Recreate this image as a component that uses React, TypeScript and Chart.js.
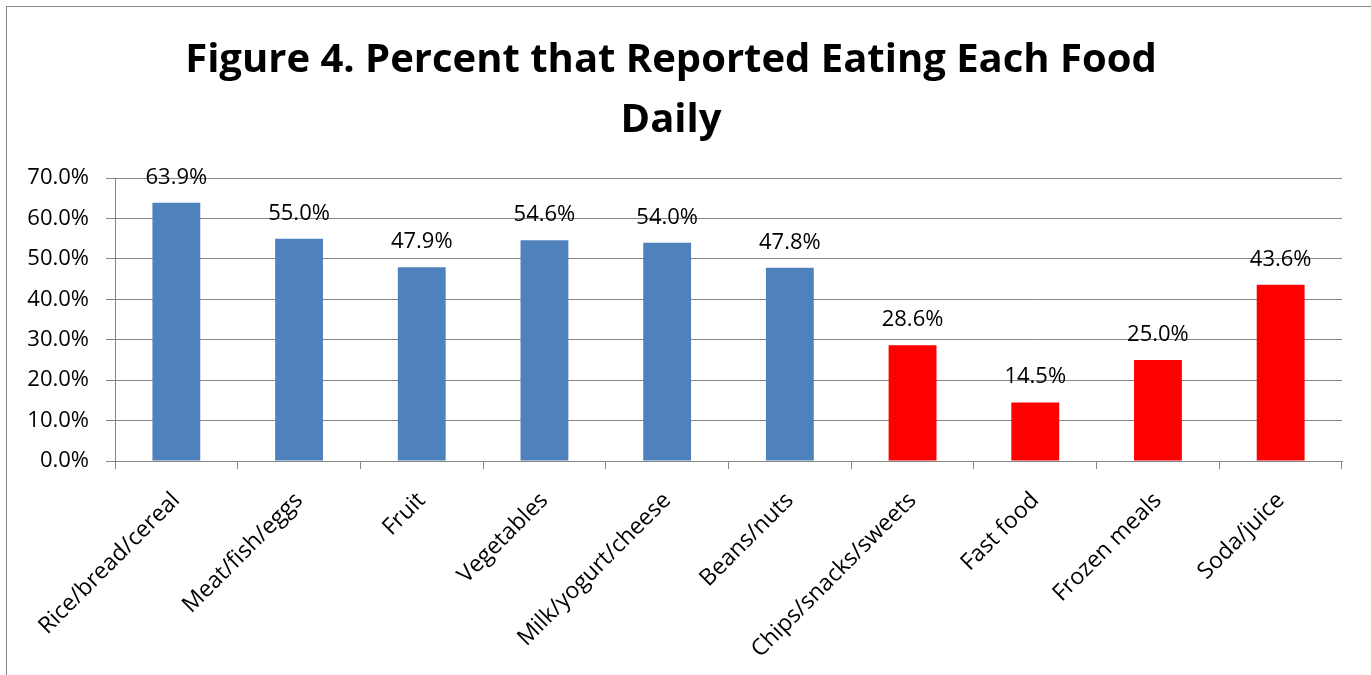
import React, { useEffect, useRef } from "react";
import { Chart, registerables } from "chart.js";

Chart.register(...registerables);

const categories = [
  "Rice/bread/cereal",
  "Meat/fish/eggs",
  "Fruit",
  "Vegetables",
  "Milk/yogurt/cheese",
  "Beans/nuts",
  "Chips/snacks/sweets",
  "Fast food",
  "Frozen meals",
  "Soda/juice",
];
const percentDaily = [63.9, 55.0, 47.9, 54.6, 54.0, 47.8, 28.6, 14.5, 25.0, 43.6];
const barColors = [
  "#4F81BD", "#4F81BD", "#4F81BD", "#4F81BD", "#4F81BD", "#4F81BD",
  "#FF0000", "#FF0000", "#FF0000", "#FF0000",
];
const titleLines = ["Figure 4. Percent that Reported Eating Each Food", "Daily"];
const yMin = 0;
const yMax = 70;
const yStep = 10;

const FONT = "'Open Sans', 'DejaVu Sans', sans-serif";
const GRID = "#868686";
const TICK_SIZE = 22;
const XTICK_SIZE = 23;

const valueLabels = {
  id: "valueLabels",
  afterDatasetsDraw(chart: any) {
    const ctx = chart.ctx;
    const meta = chart.getDatasetMeta(0);
    ctx.save();
    ctx.font = `${TICK_SIZE}px ${FONT}`;
    ctx.fillStyle = "#000";
    ctx.textAlign = "center";
    ctx.textBaseline = "alphabetic";
    meta.data.forEach((el: any, i: number) => {
      const v = chart.data.datasets[0].data[i] as number;
      ctx.fillText(v.toFixed(1) + "%", el.x, el.y - 19);
    });
    ctx.restore();
  },
};

export default function App() {
  const ref = useRef<HTMLCanvasElement | null>(null);
  useEffect(() => {
    if (!ref.current) return;
    const chart = new Chart(ref.current, {
      type: "bar",
      data: {
        labels: categories,
        datasets: [
          {
            data: percentDaily,
            backgroundColor: barColors,
            borderWidth: 0,
            barPercentage: 0.39,
            categoryPercentage: 1,
          },
        ],
      },
      options: {
        animation: false,
        responsive: false,
        maintainAspectRatio: false,
        layout: { padding: { left: 0, right: 29, top: 0, bottom: 0 } },
        plugins: {
          legend: { display: false },
          tooltip: { enabled: false },
          title: {
            display: true,
            text: titleLines,
            color: "#000",
            font: { family: FONT, size: 40, weight: "bold", lineHeight: 1.5 },
            padding: { top: 31, bottom: 27 },
          },
        },
        scales: {
          x: {
            afterFit(scale: any) {
              scale.height = 214;
            },
            grid: {
              display: true,
              drawOnChartArea: false,
              drawTicks: true,
              tickLength: 8,
              color: GRID,
              offset: true,
            },
            border: { display: true, color: GRID, width: 1 },
            ticks: {
              color: "#000",
              font: { family: FONT, size: XTICK_SIZE },
              maxRotation: 45,
              minRotation: 45,
              autoSkip: false,
              padding: 18,
            },
          },
          y: {
            min: yMin,
            max: yMax,
            afterFit(scale: any) {
              scale.width = 115;
            },
            grid: {
              color: GRID,
              drawTicks: true,
              tickLength: 9,
            },
            border: { display: true, color: GRID, width: 1 },
            ticks: {
              stepSize: yStep,
              color: "#000",
              font: { family: FONT, size: TICK_SIZE },
              padding: 17,
              callback: (v: any) => Number(v).toFixed(1) + "%",
            },
          },
        },
      },
      plugins: [valueLabels],
    });
    return () => chart.destroy();
  }, []);

  return (
    <div
      style={{
        position: "fixed",
        left: 0,
        top: 0,
        width: 1371,
        height: 675,
        background: "#fff",
        overflow: "hidden",
      }}
    >
      <canvas ref={ref} width={1371} height={675} style={{ display: "block" }} />
      <div
        style={{
          position: "absolute",
          left: 6,
          top: 6,
          width: 1400,
          height: 700,
          borderLeft: "1px solid #868686",
          borderTop: "1px solid #868686",
          pointerEvents: "none",
        }}
      />
    </div>
  );
}
